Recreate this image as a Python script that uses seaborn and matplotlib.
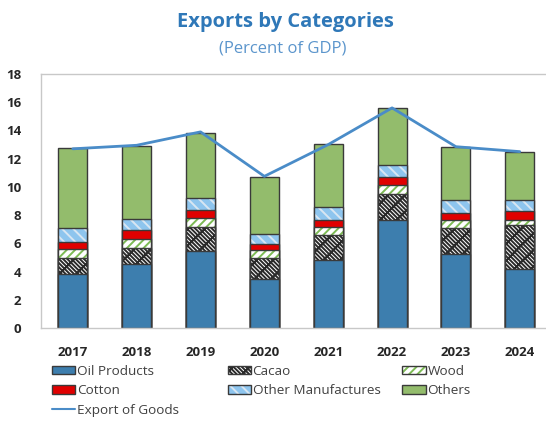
import numpy as np
import pandas as pd
import matplotlib
matplotlib.use("Agg")
import matplotlib.pyplot as plt
import matplotlib.patches as mpatches
import matplotlib.lines as mlines
import seaborn as sns

years = ["2017", "2018", "2019", "2020", "2021", "2022", "2023", "2024"]
oil_products = [3.80, 4.57, 5.46, 3.46, 4.85, 7.67, 5.27, 4.16]
cacao = [1.17, 1.10, 1.69, 1.53, 1.71, 1.84, 1.84, 3.11]
wood = [0.66, 0.66, 0.66, 0.51, 0.59, 0.65, 0.58, 0.40]
cotton = [0.47, 0.59, 0.52, 0.48, 0.54, 0.57, 0.48, 0.61]
other_manufactures = [0.99, 0.84, 0.89, 0.70, 0.87, 0.84, 0.91, 0.80]
others = [5.66, 5.15, 4.63, 4.05, 4.47, 4.01, 3.72, 3.36]
export_of_goods = [12.70, 12.95, 13.90, 10.75, 13.00, 15.60, 12.85, 12.50]

series_names = ["Oil Products", "Cacao", "Wood", "Cotton", "Other Manufactures", "Others"]
series_values = [oil_products, cacao, wood, cotton, other_manufactures, others]

sns.set_style("white")
plt.rcParams["font.family"] = ["Open Sans", "DejaVu Sans"]
plt.rcParams["hatch.linewidth"] = 1.4

# face colour, hatch, hatch colour for each category
styles = {
    "Oil Products": ("#3D7EAE", None, None),
    "Cacao": ("#FFFFFF", "\\\\\\\\\\\\xx", "#2A2A2A"),
    "Wood": ("#FFFFFF", "////", "#7DBB55"),
    "Cotton": ("#E00000", None, None),
    "Other Manufactures": ("#8EC5EE", "\\\\\\", "#D8E6F2"),
    "Others": ("#93BC6C", None, None),
}
edge = "#3A3A3A"

df = pd.DataFrame({"year": years})
cum = np.zeros(len(years))
for name, vals in zip(series_names, series_values):
    cum = cum + np.array(vals)
    df[name] = cum

fig = plt.figure(figsize=(5.46, 4.24), dpi=100)
ax = fig.add_axes([0.0749, 0.2264, 0.9355, 0.599])

# stacked bars: draw cumulative totals from the top layer down
for name in reversed(series_names):
    fc, hatch, hc = styles[name]
    n_before = len(ax.patches)
    sns.barplot(data=df, x="year", y=name, ax=ax, color=fc, width=0.455,
                saturation=1, edgecolor=edge, linewidth=1.0)
    for p in ax.patches[n_before:]:
        p.set_facecolor(fc)
        if hatch:
            p.set_hatch(hatch)
            p._hatch_color = matplotlib.colors.to_rgba(hc)

line_df = pd.DataFrame({"x": np.arange(len(years)), "v": export_of_goods})
sns.lineplot(data=line_df, x="x", y="v", ax=ax, color="#4A8CC8", linewidth=2.0)

ax.set_xlim(-0.5, len(years) - 0.5)
ax.set_ylim(0, 18)
ax.set_yticks(np.arange(0, 19, 2))
ax.set_xlabel("")
ax.set_ylabel("")
for s in ax.spines.values():
    s.set_color("#C8C8C8")
    s.set_linewidth(1.0)
ax.set_xticks(np.arange(len(years)))
ax.set_xticklabels(years)
ax.set_xticks(np.arange(len(years)) + 0.5, minor=True)
ax.tick_params(axis="x", which="major", length=0, pad=13, labelsize=9.5,
               labelcolor="#262626")
ax.tick_params(axis="x", which="minor", direction="in", length=4, color="#BFBFBF")
ax.tick_params(axis="y", direction="in", length=4, color="#BFBFBF", pad=14,
               labelsize=9.5, labelcolor="#262626")
for lab in ax.get_xticklabels() + ax.get_yticklabels():
    lab.set_fontweight("bold")

fig.text(0.522, 0.948, "Exports by Categories", ha="center", va="center",
         fontsize=14.5, fontweight="bold", color="#2F78B8")
fig.text(0.518, 0.886, "(Percent of GDP)", ha="center", va="center",
         fontsize=12, color="#5B95CC")

def patch(name):
    fc, hatch, hc = styles[name]
    p = mpatches.Patch(facecolor=fc, edgecolor=edge, hatch=hatch, linewidth=1.0)
    if hatch:
        p._hatch_color = matplotlib.colors.to_rgba(hc)
    return p

columns = [
    ([patch("Oil Products"), patch("Cotton"),
      mlines.Line2D([], [], color="#4A8CC8", linewidth=1.5)],
     ["Oil Products", "Cotton", "Export of Goods"], 0.095),
    ([patch("Cacao"), patch("Other Manufactures")],
     ["Cacao", "Other Manufactures"], 0.417),
    ([patch("Wood"), patch("Others")], ["Wood", "Others"], 0.737),
]
for handles, labels, x0 in columns:
    leg = fig.legend(handles, labels, loc="upper left", bbox_to_anchor=(x0, 0.140),
                     frameon=False, fontsize=9.7, handlelength=1.75, handleheight=0.6,
                     handletextpad=0.1, labelspacing=0.48, borderpad=0,
                     borderaxespad=0, labelcolor="#404040")

fig.savefig("out.png", dpi=100)
